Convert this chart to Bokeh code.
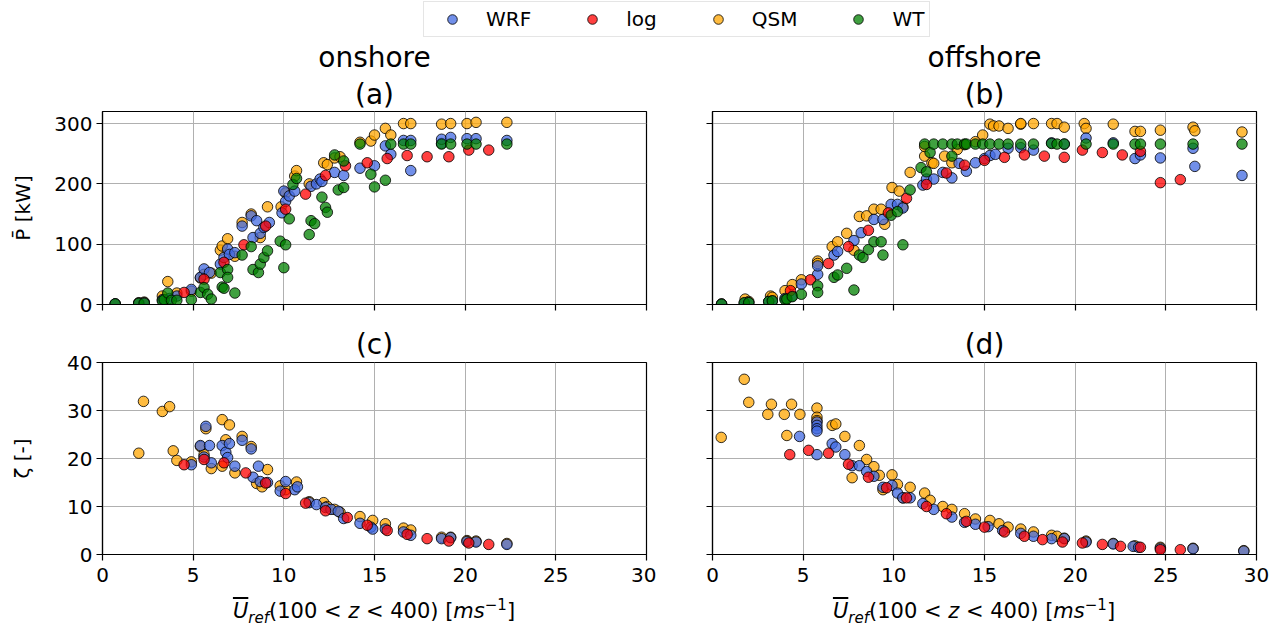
from bokeh.plotting import figure
from bokeh.models import Range1d, Title, Legend, LegendItem, FixedTicker, Div
from bokeh.layouts import column, row
from bokeh.embed import file_html
from bokeh.resources import INLINE

# ---------------- data ----------------
series_names = ["WRF", "log", "QSM", "WT"]
series_colors = ["royalblue", "red", "orange", "green"]
x_ticks = [0, 5, 10, 15, 20, 25, 30]
p_ticks = [0, 100, 200, 300]
z_ticks = [0, 10, 20, 30, 40]

# (a) onshore power
on_P_wrf_u = [0.7, 2.0, 2.3, 3.3, 3.7, 4.1, 4.9, 5.4, 5.6, 5.9, 6.5, 6.7, 6.9, 7.0, 7.3, 7.7, 8.2, 8.3, 8.5, 8.7, 8.9, 9.2,
              9.9, 10.0, 10.1, 10.3, 10.6, 11.5, 11.8, 12.0, 12.1, 12.8, 13.3, 14.2, 15.0, 15.6, 15.9, 16.6, 17.0, 17.0,
              18.7, 18.7, 19.2, 20.1, 20.6, 22.3]
on_P_wrf = [1, 2, 3, 8, 10, 14, 25, 45, 59, 53, 67, 78, 92, 83, 86, 130, 147, 111, 139, 118, 128, 136,
            152, 188, 171, 180, 188, 196, 200, 208, 204, 219, 214, 226, 230, 263, 249, 272, 272, 222,
            267, 274, 277, 275, 275, 272]
on_P_qsm_u = [0.7, 2.0, 2.3, 3.3, 3.6, 4.1, 4.9, 5.4, 5.6, 6.0, 6.5, 6.6, 6.9, 7.3, 7.7, 8.2, 8.7, 9.1,
              9.85, 10.1, 10.6, 10.7, 11.4, 12.2, 12.4, 12.8, 13.1, 14.2, 14.8, 15.0, 15.6, 15.9,
              16.6, 17.0, 18.7, 19.2, 20.1, 20.6, 22.3]
on_P_qsm = [1, 3, 4, 14, 38, 19, 22, 44, 50, 52, 90, 97, 109, 80, 136, 150, 111, 162,
            162, 185, 213, 222, 200, 235, 232, 243, 245, 269, 271, 281, 292, 281,
            300, 300, 299, 300, 300, 302, 302]
on_P_wt_u = [0.7, 2.0, 2.3, 3.3, 3.4, 3.6, 3.8, 4.1, 4.9, 5.4, 5.6, 5.8, 6.0, 6.5, 6.6, 6.7, 6.9, 6.9, 7.3,
             7.7, 8.2, 8.3, 8.6, 8.7, 8.9, 9.1, 9.8, 10.0, 10.1, 10.3, 10.5, 10.7, 11.4, 11.5, 11.7, 12.1,
             12.3, 12.4, 12.8, 13.0, 13.3, 13.3, 14.2, 14.8, 15.0, 15.6, 15.9, 16.6, 17.0, 18.7, 19.2,
             20.1, 20.6, 22.3]
on_P_wt = [1, 2, 2, 6, 8, 19, 7, 7, 8, 20, 28, 17, 9, 53, 29, 27, 58, 45, 19,
           82, 96, 58, 53, 67, 78, 89, 105, 61, 99, 142, 199, 209, 116, 139, 134, 178,
           161, 153, 248, 190, 194, 238, 266, 216, 195, 206, 266, 266, 266, 266, 266,
           266, 266, 266]
on_P_log_u = [4.5, 5.6, 6.7, 7.8, 9.0, 10.1, 11.2, 12.3, 13.4, 14.6, 15.7, 16.8, 17.9, 19.1, 20.2, 21.3]
on_P_log = [20, 42, 70, 99, 130, 158, 183, 214, 230, 235, 242, 247, 245, 245, 256, 256]

# (b) offshore power
off_P_wrf_u = [0.5, 1.75, 2.0, 3.1, 3.3, 4.0, 4.4, 4.9, 5.8, 5.8, 6.7, 6.9, 7.8, 8.2, 8.9, 9.4,
               9.85, 10.2, 10.5, 11.6, 11.8, 12.2, 12.7, 13.2, 13.6, 14.0, 14.5, 15.0, 15.3, 15.6,
               16.3, 17.0, 17.7, 18.7, 19.4, 20.6, 22.1, 23.3, 23.6, 24.7, 26.5, 26.6, 29.2]
off_P_wrf = [0.5, 2, 3, 5, 6, 10, 14, 34, 50, 64, 82, 88, 106, 119, 141, 141,
             166, 166, 160, 198, 208, 208, 219, 210, 234, 221, 235, 242, 247, 249,
             259, 260, 256, 268, 266, 276, 268, 242, 248, 243, 259, 229, 214]
off_P_qsm_u = [0.5, 1.8, 2.0, 3.2, 3.3, 4.0, 4.4, 4.9, 5.8, 5.8, 6.6, 6.9, 7.4, 7.8, 8.1, 8.5, 8.9, 9.3, 9.5,
               9.9, 10.3, 10.5, 10.9, 11.7, 11.7, 12.1, 12.2, 12.8, 13.2, 13.5, 13.9, 14.5, 14.9, 15.3,
               15.5, 15.8, 16.3, 17.0, 17.0, 17.7, 18.7, 19.0, 19.4, 20.5, 20.6, 22.1, 23.3, 23.6, 24.7,
               26.5, 26.6, 29.2]
off_P_qsm = [1, 9, 5, 14, 12, 23, 33, 41, 72, 68, 96, 104, 118, 90, 146, 147, 158, 158, 133,
             194, 188, 162, 219, 246, 262, 235, 234, 246, 235, 257, 265, 270, 281, 299,
             296, 296, 292, 299, 300, 300, 300, 300, 294, 300, 292, 299, 287, 287, 289,
             294, 288, 286]
off_P_wt_u = [0.5, 1.75, 2.0, 3.1, 3.3, 4.0, 4.1, 4.4, 4.9, 5.8, 5.8, 6.7, 6.9, 7.4, 7.8, 8.1, 8.3, 8.6,
              8.9, 9.3, 9.4, 9.85, 10.2, 10.5, 10.9, 11.5, 11.8, 12.0, 11.7, 12.2, 12.7, 13.2, 13.2,
              13.5, 13.9, 14.0, 14.5, 14.9, 15.3, 15.8, 16.3, 17.0, 17.7, 18.7, 19.0, 19.4, 20.6, 22.1,
              23.3, 23.6, 24.7, 26.5, 29.2]
off_P_wt = [0.5, 3, 3, 5, 6, 8, 9, 13, 17, 31, 20, 45, 49, 60, 24, 82, 78, 91,
            104, 104, 82, 148, 154, 99, 190, 227, 220, 252, 266, 266, 266, 266, 246,
            266, 266, 266, 266, 266, 266, 266, 266, 266, 266, 267, 266, 266, 266, 266,
            266, 266, 266, 266, 266]
off_P_log_u = [4.3, 5.4, 6.4, 7.5, 8.6, 9.7, 10.7, 11.8, 12.9, 13.9, 15.0, 16.1, 17.2, 18.3, 19.4, 20.4,
               21.5, 22.6, 23.6, 24.7, 25.8]
off_P_log = [23, 41, 68, 96, 123, 152, 176, 199, 218, 231, 239, 244, 248, 246, 244, 256,
             252, 248, 254, 202, 207]

# (c) onshore zeta
on_Z_wrf_u = [4.9, 5.4, 5.6, 5.7, 5.9, 6.0, 6.6, 6.8, 6.9, 7.0, 7.3, 7.7, 8.2, 8.3, 8.6, 8.7, 9.1,
              9.8, 10.1, 10.6, 10.75, 11.4, 11.8, 12.3, 12.6, 13.0, 13.3, 14.2, 14.8, 14.9, 15.6, 16.6,
              17.0, 18.7, 19.2, 20.1, 20.6, 22.3]
on_Z_wrf = [18.7, 22.7, 20.3, 26.7, 22.7, 19.1, 22.7, 21.3, 20.2, 23.1, 18.4, 23.8, 22.0, 16.1, 18.4, 15.2, 15.0,
            13.2, 15.2, 13.5, 14.1, 10.8, 10.4, 9.8, 9.4, 9.0, 7.5, 6.5, 5.7, 5.3, 5.3, 4.7,
            4.0, 3.3, 3.5, 2.7, 2.6, 2.1]
on_Z_qsm_u = [2.0, 2.26, 3.3, 3.7, 3.9, 4.1, 4.9, 5.4, 5.6, 5.7, 6.0, 6.6, 6.6, 6.8, 7.0, 7.3, 7.7, 8.2,
              8.5, 8.8, 9.1, 9.8, 10.1, 10.7, 11.4, 12.2, 12.4, 12.8, 13.1, 14.2, 14.9, 15.6, 16.6,
              17.0, 18.7, 19.2, 20.1, 20.6, 22.3]
on_Z_qsm = [21.1, 31.9, 29.8, 30.8, 21.6, 19.6, 19.3, 22.5, 20.8, 26.2, 17.9, 28.1, 18.4, 23.9, 27.0, 17.0, 24.6, 22.5,
            14.8, 14.1, 17.7, 14.3, 13.5, 15.1, 11.0, 10.8, 10.0, 9.4, 8.8, 7.9, 7.1, 6.4, 5.5,
            5.1, 3.6, 3.6, 2.9, 2.8, 2.3]
on_Z_log_u = [4.5, 5.6, 6.7, 7.9, 9.0, 10.1, 11.2, 12.3, 13.5, 14.6, 15.7, 16.8, 17.9, 19.1, 20.2, 21.3]
on_Z_log = [18.7, 19.8, 19.1, 17.0, 14.9, 12.7, 10.7, 9.1, 7.7, 6.1, 5.0, 4.2, 3.3, 2.8, 2.4, 2.1]

# (d) offshore zeta
off_Z_wrf_u = [4.8, 5.76, 5.76, 5.76, 5.76, 5.76, 6.6, 6.8, 7.3, 7.7, 8.1, 8.5, 8.9, 9.4,
               9.9, 10.2, 10.5, 10.9, 11.6, 12.2, 13.2, 13.9, 14.5, 15.2, 16.0, 17.0, 17.7,
               18.7, 19.4, 20.6, 22.1, 23.2, 23.5, 24.7, 26.5, 29.3]
off_Z_wrf = [24.6, 27.6, 26.9, 26.2, 25.7, 20.8, 23.1, 22.4, 20.8, 18.5, 18.5, 17.3, 16.3, 14.0,
             14.4, 12.8, 11.8, 11.8, 10.6, 9.4, 7.8, 6.7, 6.3, 5.8, 5.0, 4.4, 3.8,
             3.3, 3.3, 2.6, 2.2, 1.7, 1.5, 1.3, 1.2, 0.7]
off_Z_qsm_u = [0.48, 1.75, 2.0, 3.05, 3.25, 3.96, 4.1, 4.36, 4.82, 5.76, 5.76, 5.76, 6.6, 6.8, 7.3, 7.7,
               8.1, 8.5, 8.9, 9.2, 9.4, 9.9, 10.2, 10.5, 10.9, 11.7, 12.0, 12.7, 13.2, 13.9, 14.5,
               15.3, 15.8, 16.3, 17.0, 17.7, 18.7, 19.0, 19.4, 20.6, 22.1, 23.3, 24.7, 26.5, 29.3]
off_Z_qsm = [24.4, 36.5, 31.7, 29.2, 31.3, 29.2, 24.8, 31.3, 29.2, 30.5, 28.6, 27.9, 26.9, 27.2, 24.6, 16.0,
             22.7, 19.8, 18.3, 16.5, 13.5, 16.6, 14.6, 11.8, 14.0, 12.8, 11.3, 10.0, 9.4, 8.5, 7.4,
             7.1, 6.4, 5.7, 5.3, 4.7, 4.0, 3.8, 3.4, 2.8, 2.3, 1.8, 1.5, 1.3, 0.8]
off_Z_log_u = [4.26, 5.3, 6.4, 7.5, 8.6, 9.6, 10.7, 11.8, 12.9, 14.0, 15.0, 16.1, 17.2, 18.2, 19.3, 20.4,
               21.5, 22.5, 23.6, 24.7, 25.8]
off_Z_log = [20.8, 21.7, 21.1, 18.8, 16.1, 13.9, 11.8, 10.0, 8.5, 6.9, 5.7, 4.7, 3.8, 3.1, 2.6, 2.4,
             2.1, 1.7, 1.5, 1.0, 1.0]

# ---------------- styling helpers ----------------
FONT = "DejaVu Sans"
COL = dict(zip(series_names, series_colors))
MARKER_SIZE = 10.5


def add_points(p, u, v, name):
    return p.scatter(x=u, y=v, marker="circle", size=MARKER_SIZE, fill_color=COL[name], fill_alpha=0.75,
                     line_color="black", line_alpha=0.8, line_width=1)


def make_panel(width, height, left, right, top, bottom, ymax, yticks, ylabel, lab_standoff,
               titles, title_standoff, show_xlabels, show_ylabels):
    p = figure(width=width, height=height, x_range=Range1d(0, 30), y_range=Range1d(0, ymax),
               output_backend="svg", toolbar_location=None, title=None,
               min_border_left=left, min_border_right=right, min_border_top=top,
               min_border_bottom=bottom)
    p.outline_line_color = "black"
    p.outline_line_width = 1.2
    p.background_fill_color = "white"
    p.xaxis.ticker = FixedTicker(ticks=x_ticks)
    p.yaxis.ticker = FixedTicker(ticks=yticks)
    for ax in (p.xaxis[0], p.yaxis[0]):
        ax.major_tick_in = 0
        ax.major_tick_out = 6
        ax.minor_tick_line_color = None
        ax.axis_line_color = "black"
        ax.axis_line_width = 1.2
        ax.major_tick_line_color = "black"
        ax.major_tick_line_width = 1.2
        ax.major_label_text_font = FONT
        ax.major_label_text_font_size = "20px"
        ax.major_label_text_color = "black"
    p.xaxis.major_label_standoff = 7
    p.yaxis.major_label_standoff = 4
    p.xgrid.grid_line_color = "#b0b0b0"
    p.ygrid.grid_line_color = "#b0b0b0"
    p.xgrid.grid_line_width = 1
    p.ygrid.grid_line_width = 1
    if not show_xlabels:
        # tick marks only, no tick labels drawn
        p.xaxis.major_label_text_font_size = "1px"
        p.xaxis.major_label_text_color = None
    if show_ylabels:
        p.yaxis.axis_label = ylabel
        p.yaxis.axis_label_text_font = FONT
        p.yaxis.axis_label_text_font_size = "20px"
        p.yaxis.axis_label_text_font_style = "normal"
        p.yaxis.axis_label_text_color = "black"
        p.yaxis.axis_label_standoff = lab_standoff
    else:
        p.yaxis.major_label_text_font_size = "1px"
        p.yaxis.major_label_text_color = None
    for t in titles:
        p.add_layout(Title(text=t, align="center", text_font=FONT, text_font_size="28px",
                           text_font_style="normal", text_color="black", standoff=title_standoff), "above")
    return p


FRAME_W = 544
pa = make_panel(656, 281, 102, 10, 74, 14, 320, p_ticks, "P\u0304 [kW]", 16, ["(a)", "onshore"], 2, False, True)
pb = make_panel(621, 281, 56, 21, 74, 14, 320, p_ticks, "", 0, ["(b)", "offshore"], 2, False, False)
pc = make_panel(656, 276, 102, 10, 44, 40, 40, z_ticks, "\u03b6 [-]", 30, ["(c)"], 4, True, True)
pd = make_panel(621, 276, 56, 21, 44, 40, 40, z_ticks, "", 0, ["(d)"], 4, True, False)

# draw order: QSM, WRF, log, WT
add_points(pa, on_P_qsm_u, on_P_qsm, "QSM")
add_points(pa, on_P_wrf_u, on_P_wrf, "WRF")
add_points(pa, on_P_log_u, on_P_log, "log")
add_points(pa, on_P_wt_u, on_P_wt, "WT")

add_points(pb, off_P_qsm_u, off_P_qsm, "QSM")
add_points(pb, off_P_wrf_u, off_P_wrf, "WRF")
add_points(pb, off_P_log_u, off_P_log, "log")
add_points(pb, off_P_wt_u, off_P_wt, "WT")

add_points(pc, on_Z_qsm_u, on_Z_qsm, "QSM")
add_points(pc, on_Z_wrf_u, on_Z_wrf, "WRF")
add_points(pc, on_Z_log_u, on_Z_log, "log")

add_points(pd, off_Z_qsm_u, off_Z_qsm, "QSM")
add_points(pd, off_Z_wrf_u, off_Z_wrf, "WRF")
add_points(pd, off_Z_log_u, off_Z_log, "log")

# ---------------- legend strip ----------------
# a strip whose ranges lie outside the data: the series' points are clipped away,
# only the legend (which needs non-empty renderers to draw its glyphs) shows.
lf = figure(width=1277, height=37, x_range=Range1d(-1000, -999), y_range=Range1d(-1000, -999),
            output_backend="svg", toolbar_location=None, title=None, min_border=0,
            x_axis_location=None, y_axis_location=None)
lf.outline_line_color = None
lf.grid.visible = False
legend_sources = {"WRF": (on_P_wrf_u, on_P_wrf), "log": (on_P_log_u, on_P_log),
                  "QSM": (on_P_qsm_u, on_P_qsm), "WT": (on_P_wt_u, on_P_wt)}
items = []
for name in series_names:
    u, v = legend_sources[name]
    r = add_points(lf, u, v, name)
    items.append(LegendItem(label=name, renderers=[r]))
leg = Legend(items=items, orientation="horizontal", location=(423, 0), padding=5, spacing=38,
             glyph_width=46, glyph_height=24, label_standoff=11, label_text_font=FONT,
             label_text_font_size="20px", label_text_color="black",
             border_line_color="#cccccc", border_line_width=1, background_fill_color="white",
             background_fill_alpha=1, margin=0)
lf.add_layout(leg)

# ---------------- x-axis labels (HTML text) ----------------
xlab_html = ('<span style="font-style:italic;text-decoration:overline">U</span>'
             '<sub style="font-style:italic;font-size:15px">ref</sub>'
             '(100 &lt; <i>z</i> &lt; 400) [<i>ms</i><sup style="font-size:15px">\u22121</sup>]')
div_style = {"text-align": "center", "font-family": "DejaVu Sans", "font-size": "21px",
             "color": "black", "padding-top": "3px", "line-height": "1.1"}
dc = Div(text=xlab_html, width=FRAME_W, height=31, margin=(0, 0, 0, 102), styles=div_style)
dd = Div(text=xlab_html, width=FRAME_W, height=31, margin=(0, 21, 0, 56), styles=div_style)

layout = column(lf, row(pa, pb), row(pc, pd), row(dc, dd))
open("out.html", "w").write(file_html(layout, INLINE))
